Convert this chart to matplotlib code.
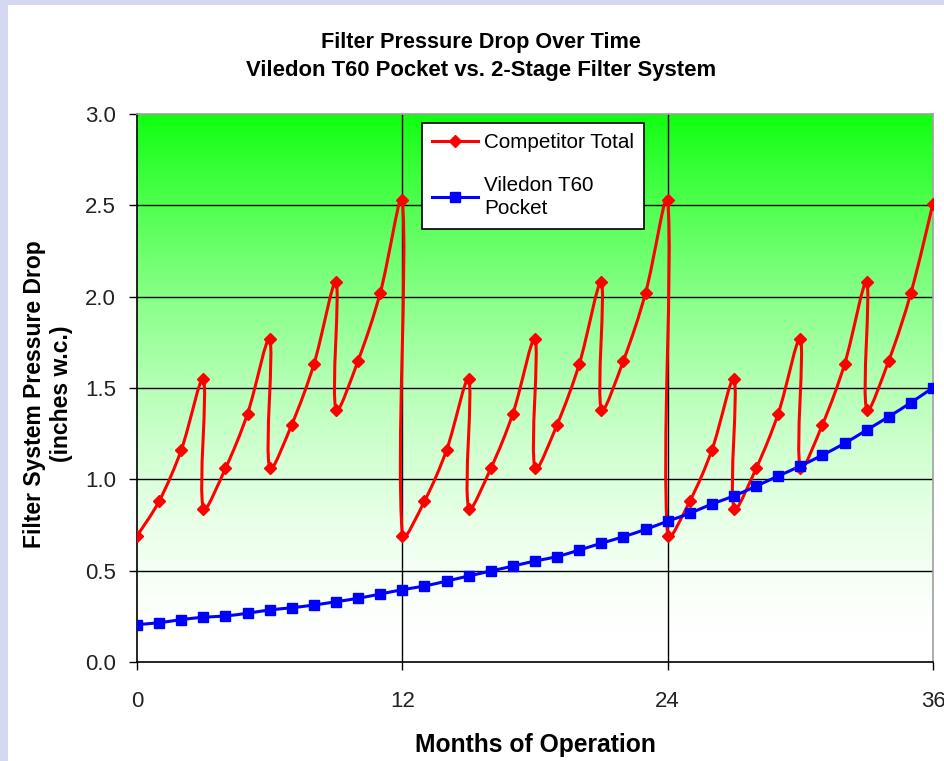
import numpy as np
import matplotlib
matplotlib.use("Agg")
import matplotlib.pyplot as plt
from matplotlib.path import Path
from matplotlib.patches import PathPatch, Rectangle
from matplotlib.lines import Line2D
from matplotlib.colors import LinearSegmentedColormap

plt.rcParams['font.family'] = ['Liberation Sans', 'DejaVu Sans']

# Competitor 2-stage system (filter change-outs give the vertical drops)
comp_months = [0, 1, 2, 3, 3, 4, 5, 6, 6, 7, 8, 9, 9, 10, 11, 12,
               12, 13, 14, 15, 15, 16, 17, 18, 18, 19, 20, 21, 21, 22, 23, 24,
               24, 25, 26, 27, 27, 28, 29, 30, 30, 31, 32, 33, 33, 34, 35, 36]
comp_drop = [0.69, 0.88, 1.16, 1.55, 0.84, 1.06, 1.36, 1.77, 1.06, 1.30, 1.63, 2.08, 1.38, 1.65, 2.02, 2.53,
             0.69, 0.88, 1.16, 1.55, 0.84, 1.06, 1.36, 1.77, 1.06, 1.30, 1.63, 2.08, 1.38, 1.65, 2.02, 2.53,
             0.69, 0.88, 1.16, 1.55, 0.84, 1.06, 1.36, 1.77, 1.06, 1.30, 1.63, 2.08, 1.38, 1.65, 2.02, 2.51]

# Viledon T60 pocket filter, monthly
vil_months = list(range(0, 37))
vil_drop = [0.205, 0.215, 0.232, 0.245, 0.252, 0.267, 0.285, 0.297, 0.312, 0.330,
            0.349, 0.372, 0.396, 0.416, 0.443, 0.471, 0.498, 0.525, 0.553, 0.577,
            0.613, 0.650, 0.686, 0.726, 0.771, 0.814, 0.865, 0.909, 0.963, 1.018,
            1.073, 1.133, 1.197, 1.270, 1.343, 1.420, 1.502]

x_ticks = [0, 12, 24, 36]
y_ticks = [0.0, 0.5, 1.0, 1.5, 2.0, 2.5, 3.0]


def smooth_path(ax, x, y, t=1 / 3.0):
    # excel style smoothed line, bezier controls worked out in screen space
    pix = ax.transData.transform(np.column_stack([x, y]).astype(float))
    n = len(pix)
    c_in = pix.copy()
    c_out = pix.copy()
    for i in range(1, n - 1):
        d01 = np.hypot(*(pix[i] - pix[i - 1]))
        d12 = np.hypot(*(pix[i + 1] - pix[i]))
        tan = pix[i + 1] - pix[i - 1]
        c_in[i] = pix[i] - t * d01 / (d01 + d12) * tan
        c_out[i] = pix[i] + t * d12 / (d01 + d12) * tan
    c_out[0] = pix[0] + t / 2 * (pix[1] - pix[0])
    c_in[-1] = pix[-1] - t / 2 * (pix[-1] - pix[-2])
    verts = [pix[0]]
    codes = [Path.MOVETO]
    for i in range(n - 1):
        verts += [c_out[i], c_in[i + 1], pix[i + 1]]
        codes += [Path.CURVE4] * 3
    return Path(ax.transData.inverted().transform(np.array(verts)), codes)


fig = plt.figure(figsize=(9.44, 7.61), dpi=100)
fig.patch.set_facecolor('#d4d8f0')
fig.patches.append(Rectangle((8 / 944, 0), 1, 1 - 5 / 761, transform=fig.transFigure,
                             facecolor='white', edgecolor='none', zorder=-10))

ax = fig.add_axes([137 / 944, 1 - 662 / 761, 796 / 944, 548 / 761])

# green to white plot area fill
g = np.linspace(1, 0, 300).reshape(-1, 1) ** 1.7
cmap = LinearSegmentedColormap.from_list('gw', ['white', '#10ff10'])
ax.imshow(g, extent=(0, 1, 0, 1), transform=ax.transAxes, aspect='auto',
          cmap=cmap, vmin=0, vmax=1, zorder=0, interpolation='bilinear')

ax.set_xlim(0, 36)
ax.set_ylim(0, 3.0)

for yv in y_ticks[1:-1]:
    ax.axhline(yv, color='black', lw=1.0, zorder=1)
for xv in x_ticks[1:-1]:
    ax.axvline(xv, color='black', lw=1.0, zorder=1)

ax.add_patch(PathPatch(smooth_path(ax, comp_months, comp_drop), facecolor='none',
                       edgecolor='#ff0000', lw=2.2, zorder=3, joinstyle='round'))
ax.plot(comp_months, comp_drop, ls='none', marker='D', ms=6, color='#ff0000', zorder=4)

ax.add_patch(PathPatch(smooth_path(ax, vil_months, vil_drop), facecolor='none',
                       edgecolor='#0000ff', lw=2.2, zorder=3, joinstyle='round'))
ax.plot(vil_months, vil_drop, ls='none', marker='s', ms=7, color='#0000ff', zorder=4)

ax.set_xticks(x_ticks)
ax.set_yticks(y_ticks)
ax.set_yticklabels(['%.1f' % v for v in y_ticks])
ax.tick_params(axis='both', direction='out', length=6, width=1.0, color='black',
               labelsize=16, labelcolor='#222222')
ax.tick_params(axis='x', pad=15)
ax.tick_params(axis='y', pad=9)
for s in ['left', 'bottom']:
    ax.spines[s].set_color('black')
    ax.spines[s].set_linewidth(1.2)
for s in ['top', 'right']:
    ax.spines[s].set_color('#a0a0a0')
    ax.spines[s].set_linewidth(1.2)

handles = [Line2D([], [], color='#ff0000', lw=2.2, marker='D', ms=6),
           Line2D([], [], color='#0000ff', lw=2.2, marker='s', ms=7)]
leg = ax.legend(handles, ['Competitor Total', 'Viledon T60\nPocket'],
                loc='upper left', bbox_to_anchor=(0.358, 0.984), fontsize=14.9,
                frameon=True, fancybox=False, framealpha=1, edgecolor='black',
                borderpad=0.5, labelspacing=1.15, handlelength=2.2, handletextpad=0.3,
                borderaxespad=0)
for txt in leg.get_texts():
    txt.set_linespacing(1.3)
leg.get_frame().set_linewidth(1.2)
leg.set_zorder(5)

fig.text(481 / 944, 1 - 48 / 761, 'Filter Pressure Drop Over Time', ha='center',
         va='baseline', fontsize=15.6, fontweight='bold')
fig.text(481 / 944, 1 - 76 / 761, 'Viledon T60 Pocket vs. 2-Stage Filter System', ha='center',
         va='baseline', fontsize=15.9, fontweight='bold')
fig.text(535 / 944, 1 - 752 / 761, 'Months of Operation', ha='center', va='baseline',
         fontsize=17.7, fontweight='bold')
fig.text(48 / 944, 1 - 394 / 761, 'Filter System Pressure Drop\n(inches w.c.)', ha='center',
         va='center', rotation=90, multialignment='center', fontsize=16.5, fontweight='bold')

fig.savefig('out.png', dpi=100, facecolor=fig.get_facecolor())
